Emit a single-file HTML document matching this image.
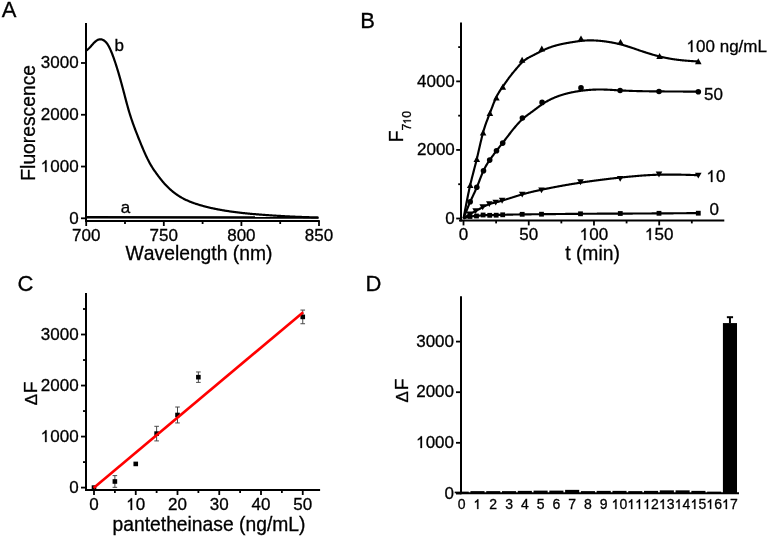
<!DOCTYPE html>
<html><head><meta charset="utf-8"><style>
html,body{margin:0;padding:0;background:#fff;}
svg{display:block;will-change:transform;}
text{-webkit-font-smoothing:antialiased;font-kerning:none;stroke:#000;stroke-width:0.3px;}
text{font-family:"Liberation Sans", sans-serif;fill:#000;}
</style></head><body>
<svg width="769" height="538" viewBox="0 0 769 538">
<rect width="769" height="538" fill="#fff"/>
<text x="1.80" y="17.40" font-size="22.00" text-anchor="start">A</text>
<text x="360.20" y="27.70" font-size="22.00" text-anchor="start">B</text>
<text x="17.40" y="291.30" font-size="22.00" text-anchor="start">C</text>
<text x="365.60" y="291.30" font-size="22.00" text-anchor="start">D</text>
<line x1="86.00" y1="23.00" x2="86.00" y2="222.00" stroke="#000" stroke-width="2.00" stroke-linecap="butt"/>
<line x1="85.00" y1="221.00" x2="319.80" y2="221.00" stroke="#000" stroke-width="2.00" stroke-linecap="butt"/>
<line x1="81.00" y1="218.30" x2="86.00" y2="218.30" stroke="#000" stroke-width="1.80" stroke-linecap="butt"/>
<text x="78.60" y="223.50" font-size="17.00" text-anchor="end">0</text>
<line x1="81.00" y1="166.53" x2="86.00" y2="166.53" stroke="#000" stroke-width="1.80" stroke-linecap="butt"/>
<text x="78.60" y="171.73" font-size="17.00" text-anchor="end"> 000</text>
<line x1="81.00" y1="114.76" x2="86.00" y2="114.76" stroke="#000" stroke-width="1.80" stroke-linecap="butt"/>
<text x="78.60" y="119.96" font-size="17.00" text-anchor="end">2000</text>
<line x1="81.00" y1="62.99" x2="86.00" y2="62.99" stroke="#000" stroke-width="1.80" stroke-linecap="butt"/>
<text x="78.60" y="68.19" font-size="17.00" text-anchor="end">3000</text>
<line x1="86.20" y1="221.00" x2="86.20" y2="226.00" stroke="#000" stroke-width="1.80" stroke-linecap="butt"/>
<text x="86.20" y="241.40" font-size="17.00" text-anchor="middle">700</text>
<line x1="163.80" y1="221.00" x2="163.80" y2="226.00" stroke="#000" stroke-width="1.80" stroke-linecap="butt"/>
<text x="163.80" y="241.40" font-size="17.00" text-anchor="middle">750</text>
<line x1="241.40" y1="221.00" x2="241.40" y2="226.00" stroke="#000" stroke-width="1.80" stroke-linecap="butt"/>
<text x="241.40" y="241.40" font-size="17.00" text-anchor="middle">800</text>
<line x1="319.00" y1="221.00" x2="319.00" y2="226.00" stroke="#000" stroke-width="1.80" stroke-linecap="butt"/>
<text x="319.00" y="241.40" font-size="17.00" text-anchor="middle">850</text>
<line x1="125.00" y1="221.00" x2="125.00" y2="224.00" stroke="#000" stroke-width="1.80" stroke-linecap="butt"/>
<line x1="202.60" y1="221.00" x2="202.60" y2="224.00" stroke="#000" stroke-width="1.80" stroke-linecap="butt"/>
<line x1="280.20" y1="221.00" x2="280.20" y2="224.00" stroke="#000" stroke-width="1.80" stroke-linecap="butt"/>
<path d="M86.50,50.40L87.00,50.01L87.50,49.61L88.00,49.20L88.50,48.77L89.00,48.30L89.50,47.80L90.00,47.27L90.50,46.71L91.00,46.15L91.50,45.57L92.00,45.00L92.50,44.44L93.00,43.88L93.50,43.35L94.00,42.83L94.50,42.34L95.00,41.88L95.50,41.44L96.00,41.05L96.50,40.68L97.00,40.36L97.50,40.07L98.00,39.83L98.50,39.63L99.00,39.47L99.50,39.36L100.00,39.30L100.50,39.29L101.00,39.33L101.50,39.41L102.00,39.54L102.50,39.72L103.00,39.94L103.50,40.20L104.00,40.51L104.50,40.87L105.00,41.27L105.50,41.74L106.00,42.26L106.50,42.84L107.00,43.48L107.50,44.20L108.00,44.99L108.50,45.84L109.00,46.76L109.50,47.75L110.00,48.79L110.50,49.88L111.00,51.03L111.50,52.22L112.00,53.46L112.50,54.74L113.00,56.07L113.50,57.43L114.00,58.83L114.50,60.27L115.00,61.75L115.50,63.26L116.00,64.80L116.50,66.37L117.00,67.97L117.50,69.60L118.00,71.25L118.50,72.93L119.00,74.64L119.50,76.37L120.00,78.12L120.50,79.89L121.00,81.69L121.50,83.51L122.00,85.34L122.50,87.20L123.00,89.08L123.50,90.97L124.00,92.88L124.50,94.79L125.00,96.70L125.50,98.61L126.00,100.50L126.50,102.38L127.00,104.24L127.50,106.06L128.00,107.86L128.50,109.61L129.00,111.32L129.50,112.98L130.00,114.60L130.50,116.18L131.00,117.72L131.50,119.23L132.00,120.70L132.50,122.14L133.00,123.56L133.50,124.95L134.00,126.32L134.50,127.67L135.00,129.00L135.50,130.32L136.00,131.63L136.50,132.92L137.00,134.20L137.50,135.47L138.00,136.74L138.50,137.99L139.00,139.23L139.50,140.46L140.00,141.69L140.50,142.91L141.00,144.12L141.50,145.32L142.00,146.52L142.50,147.71L143.00,148.89L143.50,150.06L144.00,151.22L144.50,152.36L145.00,153.49L145.50,154.61L146.00,155.70L146.50,156.77L147.00,157.83L147.50,158.86L148.00,159.86L148.50,160.85L149.00,161.80L149.50,162.73L150.00,163.63L150.50,164.50L151.00,165.35L151.50,166.18L152.00,166.99L152.50,167.78L153.00,168.55L153.50,169.31L154.00,170.05L154.50,170.78L155.00,171.49L155.50,172.20L156.00,172.90L156.50,173.59L157.00,174.27L157.50,174.95L158.00,175.63L158.50,176.30L159.00,176.96L159.50,177.62L160.00,178.26L160.50,178.90L161.00,179.53L161.50,180.15L162.00,180.77L162.50,181.37L163.00,181.96L163.50,182.54L164.00,183.11L164.50,183.67L165.00,184.22L165.50,184.76L166.00,185.29L166.50,185.81L167.00,186.32L167.50,186.83L168.00,187.32L168.50,187.81L169.00,188.28L169.50,188.75L170.00,189.21L170.50,189.66L171.00,190.10L171.50,190.53L172.00,190.96L172.50,191.37L173.00,191.78L173.50,192.18L174.00,192.57L174.50,192.95L175.00,193.33L175.50,193.70L176.00,194.06L176.50,194.41L177.00,194.76L177.50,195.10L178.00,195.43L178.50,195.76L179.00,196.08L179.50,196.39L180.00,196.70L180.50,197.00L181.00,197.29L181.50,197.58L182.00,197.86L182.50,198.13L183.00,198.40L183.50,198.67L184.00,198.93L184.50,199.18L185.00,199.43L185.50,199.67L186.00,199.91L186.50,200.14L187.00,200.37L187.50,200.60L188.00,200.82L188.50,201.03L189.00,201.24L189.50,201.45L190.00,201.66L190.50,201.86L191.00,202.05L191.50,202.24L192.00,202.43L192.50,202.62L193.00,202.80L193.50,202.98L194.00,203.16L194.50,203.33L195.00,203.50L195.50,203.67L196.00,203.84L196.50,204.00L197.00,204.16L197.50,204.32L198.00,204.48L198.50,204.64L199.00,204.79L199.50,204.94L200.00,205.09L200.50,205.24L201.00,205.39L201.50,205.53L202.00,205.67L202.50,205.81L203.00,205.95L203.50,206.09L204.00,206.23L204.50,206.36L205.00,206.49L205.50,206.62L206.00,206.75L206.50,206.88L207.00,207.00L207.50,207.12L208.00,207.25L208.50,207.37L209.00,207.49L209.50,207.60L210.00,207.72L210.50,207.83L211.00,207.95L211.50,208.06L212.00,208.17L212.50,208.28L213.00,208.39L213.50,208.49L214.00,208.60L214.50,208.70L215.00,208.80L215.50,208.90L216.00,209.00L216.50,209.10L217.00,209.20L217.50,209.30L218.00,209.39L218.50,209.49L219.00,209.58L219.50,209.67L220.00,209.76L220.50,209.85L221.00,209.94L221.50,210.03L222.00,210.12L222.50,210.21L223.00,210.29L223.50,210.38L224.00,210.46L224.50,210.54L225.00,210.62L225.50,210.71L226.00,210.79L226.50,210.86L227.00,210.94L227.50,211.02L228.00,211.10L228.50,211.17L229.00,211.25L229.50,211.32L230.00,211.39L230.50,211.47L231.00,211.54L231.50,211.61L232.00,211.68L232.50,211.75L233.00,211.82L233.50,211.89L234.00,211.95L234.50,212.02L235.00,212.08L235.50,212.15L236.00,212.21L236.50,212.28L237.00,212.34L237.50,212.40L238.00,212.46L238.50,212.52L239.00,212.58L239.50,212.64L240.00,212.70L240.50,212.76L241.00,212.81L241.50,212.87L242.00,212.93L242.50,212.98L243.00,213.04L243.50,213.09L244.00,213.14L244.50,213.20L245.00,213.25L245.50,213.30L246.00,213.35L246.50,213.40L247.00,213.45L247.50,213.50L248.00,213.55L248.50,213.60L249.00,213.64L249.50,213.69L250.00,213.74L250.50,213.79L251.00,213.83L251.50,213.88L252.00,213.92L252.50,213.97L253.00,214.01L253.50,214.05L254.00,214.10L254.50,214.14L255.00,214.18L255.50,214.22L256.00,214.27L256.50,214.31L257.00,214.35L257.50,214.39L258.00,214.43L258.50,214.47L259.00,214.51L259.50,214.55L260.00,214.59L260.50,214.62L261.00,214.66L261.50,214.70L262.00,214.74L262.50,214.77L263.00,214.81L263.50,214.85L264.00,214.89L264.50,214.92L265.00,214.96L265.50,214.99L266.00,215.03L266.50,215.06L267.00,215.10L267.50,215.14L268.00,215.17L268.50,215.20L269.00,215.24L269.50,215.27L270.00,215.31L270.50,215.34L271.00,215.38L271.50,215.41L272.00,215.44L272.50,215.48L273.00,215.51L273.50,215.54L274.00,215.57L274.50,215.61L275.00,215.64L275.50,215.67L276.00,215.70L276.50,215.73L277.00,215.76L277.50,215.79L278.00,215.83L278.50,215.86L279.00,215.89L279.50,215.92L280.00,215.95L280.50,215.97L281.00,216.00L281.50,216.03L282.00,216.06L282.50,216.09L283.00,216.12L283.50,216.15L284.00,216.17L284.50,216.20L285.00,216.23L285.50,216.25L286.00,216.28L286.50,216.31L287.00,216.33L287.50,216.36L288.00,216.38L288.50,216.41L289.00,216.43L289.50,216.46L290.00,216.48L290.50,216.50L291.00,216.53L291.50,216.55L292.00,216.57L292.50,216.60L293.00,216.62L293.50,216.64L294.00,216.66L294.50,216.68L295.00,216.70L295.50,216.73L296.00,216.75L296.50,216.77L297.00,216.79L297.50,216.81L298.00,216.83L298.50,216.85L299.00,216.87L299.50,216.88L300.00,216.90L300.50,216.92L301.00,216.94L301.50,216.96L302.00,216.98L302.50,216.99L303.00,217.01L303.50,217.03L304.00,217.05L304.50,217.06L305.00,217.08L305.50,217.10L306.00,217.11L306.50,217.13L307.00,217.15L307.50,217.16L308.00,217.18L308.50,217.20L309.00,217.21L309.50,217.23L310.00,217.24L310.50,217.26L311.00,217.27L311.50,217.29L312.00,217.30L312.50,217.32L313.00,217.34L313.50,217.35L314.00,217.37L314.50,217.38L315.00,217.40L315.50,217.41L316.00,217.43L316.50,217.44L317.00,217.46L317.50,217.47L318.00,217.49L318.50,217.50" fill="none" stroke="#000" stroke-width="2.2" stroke-linejoin="round"/>
<line x1="86.50" y1="217.35" x2="318.50" y2="217.50" stroke="#000" stroke-width="2.50" stroke-linecap="butt"/>
<text x="120.80" y="212.80" font-size="17.00" text-anchor="start">a</text>
<text x="114.60" y="51.00" font-size="17.00" text-anchor="start">b</text>
<text x="199.00" y="260.20" font-size="19.30" text-anchor="middle">Wavelength (nm)</text>
<text transform="translate(35.3,122.8) rotate(-90)" font-size="19.30" text-anchor="middle">Fluorescence</text>
<line x1="461.00" y1="22.50" x2="461.00" y2="221.40" stroke="#000" stroke-width="2.00" stroke-linecap="butt"/>
<line x1="459.00" y1="220.40" x2="724.30" y2="220.40" stroke="#000" stroke-width="2.00" stroke-linecap="butt"/>
<line x1="456.20" y1="218.50" x2="461.00" y2="218.50" stroke="#000" stroke-width="1.80" stroke-linecap="butt"/>
<text x="454.80" y="223.70" font-size="17.00" text-anchor="end">0</text>
<line x1="456.20" y1="149.94" x2="461.00" y2="149.94" stroke="#000" stroke-width="1.80" stroke-linecap="butt"/>
<text x="454.80" y="155.14" font-size="17.00" text-anchor="end">2000</text>
<line x1="456.20" y1="81.38" x2="461.00" y2="81.38" stroke="#000" stroke-width="1.80" stroke-linecap="butt"/>
<text x="454.80" y="86.58" font-size="17.00" text-anchor="end">4000</text>
<line x1="458.20" y1="184.22" x2="461.00" y2="184.22" stroke="#000" stroke-width="1.80" stroke-linecap="butt"/>
<line x1="458.20" y1="115.66" x2="461.00" y2="115.66" stroke="#000" stroke-width="1.80" stroke-linecap="butt"/>
<line x1="458.20" y1="47.10" x2="461.00" y2="47.10" stroke="#000" stroke-width="1.80" stroke-linecap="butt"/>
<line x1="463.50" y1="220.40" x2="463.50" y2="225.40" stroke="#000" stroke-width="1.80" stroke-linecap="butt"/>
<text x="463.50" y="240.30" font-size="17.00" text-anchor="middle">0</text>
<line x1="528.74" y1="220.40" x2="528.74" y2="225.40" stroke="#000" stroke-width="1.80" stroke-linecap="butt"/>
<text x="528.74" y="240.30" font-size="17.00" text-anchor="middle">50</text>
<line x1="593.97" y1="220.40" x2="593.97" y2="225.40" stroke="#000" stroke-width="1.80" stroke-linecap="butt"/>
<text x="593.97" y="240.30" font-size="17.00" text-anchor="middle"> 00</text>
<line x1="659.20" y1="220.40" x2="659.20" y2="225.40" stroke="#000" stroke-width="1.80" stroke-linecap="butt"/>
<text x="659.20" y="240.30" font-size="17.00" text-anchor="middle"> 50</text>
<line x1="496.12" y1="220.40" x2="496.12" y2="223.40" stroke="#000" stroke-width="1.80" stroke-linecap="butt"/>
<line x1="561.35" y1="220.40" x2="561.35" y2="223.40" stroke="#000" stroke-width="1.80" stroke-linecap="butt"/>
<line x1="626.59" y1="220.40" x2="626.59" y2="223.40" stroke="#000" stroke-width="1.80" stroke-linecap="butt"/>
<line x1="691.82" y1="220.40" x2="691.82" y2="223.40" stroke="#000" stroke-width="1.80" stroke-linecap="butt"/>
<path d="M463.50,218.50L463.90,216.38L464.30,214.26L464.70,212.14L465.10,210.04L465.50,207.94L465.90,205.86L466.30,203.80L466.70,201.75L467.10,199.73L467.50,197.73L467.90,195.76L468.30,193.82L468.70,191.91L469.10,190.04L469.50,188.21L469.90,186.41L470.30,184.67L470.70,182.96L471.10,181.30L471.50,179.67L471.90,178.08L472.30,176.50L472.70,174.95L473.10,173.41L473.50,171.88L473.90,170.36L474.30,168.84L474.70,167.31L475.10,165.77L475.50,164.22L475.90,162.64L476.30,161.04L476.70,159.41L477.10,157.75L477.50,156.05L477.90,154.33L478.30,152.59L478.70,150.84L479.10,149.08L479.50,147.32L479.90,145.56L480.30,143.82L480.70,142.09L481.10,140.39L481.50,138.72L481.90,137.08L482.30,135.49L482.70,133.95L483.10,132.46L483.50,131.04L483.90,129.67L484.30,128.36L484.70,127.09L485.10,125.88L485.50,124.70L485.90,123.56L486.30,122.45L486.70,121.37L487.10,120.31L487.50,119.27L487.90,118.24L488.30,117.22L488.70,116.20L489.10,115.18L489.50,114.16L489.90,113.12L490.30,112.08L490.70,111.02L491.10,109.97L491.50,108.91L491.90,107.85L492.30,106.80L492.70,105.76L493.10,104.73L493.50,103.71L493.90,102.70L494.30,101.72L494.70,100.75L495.10,99.82L495.50,98.91L495.90,98.03L496.30,97.18L496.70,96.37L497.10,95.59L497.50,94.84L497.90,94.11L498.30,93.42L498.70,92.74L499.10,92.08L499.50,91.45L499.90,90.83L500.30,90.22L500.70,89.62L501.10,89.04L501.50,88.46L501.90,87.88L502.30,87.31L502.70,86.74L503.10,86.17L503.50,85.60L503.90,85.02L504.30,84.45L504.70,83.87L505.10,83.29L505.50,82.72L505.90,82.15L506.30,81.57L506.70,81.01L507.10,80.44L507.50,79.88L507.90,79.32L508.30,78.76L508.70,78.21L509.10,77.67L509.50,77.13L509.90,76.60L510.30,76.08L510.70,75.56L511.10,75.05L511.50,74.54L511.90,74.04L512.30,73.54L512.70,73.05L513.10,72.57L513.50,72.08L513.90,71.60L514.30,71.13L514.70,70.65L515.10,70.18L515.50,69.71L515.90,69.24L516.30,68.77L516.70,68.30L517.10,67.83L517.50,67.37L517.90,66.90L518.30,66.43L518.70,65.96L519.10,65.50L519.50,65.04L519.90,64.60L520.30,64.15L520.70,63.72L521.10,63.30L521.50,62.89L521.90,62.49L522.30,62.11L522.70,61.74L523.10,61.39L523.50,61.05L523.90,60.73L524.30,60.41L524.70,60.11L525.10,59.82L525.50,59.54L525.90,59.27L526.30,59.01L526.70,58.76L527.10,58.51L527.50,58.27L527.90,58.04L528.30,57.82L528.70,57.60L529.10,57.38L529.50,57.17L529.90,56.96L530.30,56.76L530.70,56.55L531.10,56.35L531.50,56.15L531.90,55.95L532.30,55.75L532.70,55.55L533.10,55.34L533.50,55.14L533.90,54.93L534.30,54.73L534.70,54.52L535.10,54.32L535.50,54.11L535.90,53.90L536.30,53.70L536.70,53.49L537.10,53.28L537.50,53.08L537.90,52.87L538.30,52.67L538.70,52.46L539.10,52.26L539.50,52.06L539.90,51.85L540.30,51.65L540.70,51.45L541.10,51.25L541.50,51.06L541.90,50.86L542.30,50.67L542.70,50.48L543.10,50.29L543.50,50.10L543.90,49.91L544.30,49.73L544.70,49.54L545.10,49.37L545.50,49.19L545.90,49.01L546.30,48.84L546.70,48.67L547.10,48.51L547.50,48.34L547.90,48.18L548.30,48.03L548.70,47.87L549.10,47.72L549.50,47.57L549.90,47.42L550.30,47.28L550.70,47.14L551.10,47.00L551.50,46.86L551.90,46.72L552.30,46.59L552.70,46.46L553.10,46.33L553.50,46.21L553.90,46.09L554.30,45.97L554.70,45.85L555.10,45.73L555.50,45.61L555.90,45.50L556.30,45.39L556.70,45.28L557.10,45.18L557.50,45.07L557.90,44.97L558.30,44.87L558.70,44.77L559.10,44.67L559.50,44.58L559.90,44.48L560.30,44.39L560.70,44.30L561.10,44.21L561.50,44.12L561.90,44.04L562.30,43.95L562.70,43.87L563.10,43.79L563.50,43.71L563.90,43.63L564.30,43.55L564.70,43.47L565.10,43.39L565.50,43.32L565.90,43.24L566.30,43.17L566.70,43.10L567.10,43.03L567.50,42.96L567.90,42.89L568.30,42.82L568.70,42.75L569.10,42.68L569.50,42.61L569.90,42.55L570.30,42.48L570.70,42.41L571.10,42.35L571.50,42.28L571.90,42.22L572.30,42.15L572.70,42.09L573.10,42.02L573.50,41.96L573.90,41.89L574.30,41.83L574.70,41.77L575.10,41.71L575.50,41.64L575.90,41.58L576.30,41.52L576.70,41.47L577.10,41.41L577.50,41.35L577.90,41.29L578.30,41.24L578.70,41.19L579.10,41.13L579.50,41.08L579.90,41.03L580.30,40.98L580.70,40.94L581.10,40.89L581.50,40.85L581.90,40.81L582.30,40.77L582.70,40.73L583.10,40.69L583.50,40.66L583.90,40.62L584.30,40.59L584.70,40.56L585.10,40.54L585.50,40.51L585.90,40.49L586.30,40.47L586.70,40.45L587.10,40.43L587.50,40.42L587.90,40.41L588.30,40.40L588.70,40.39L589.10,40.38L589.50,40.38L589.90,40.37L590.30,40.37L590.70,40.37L591.10,40.37L591.50,40.38L591.90,40.38L592.30,40.39L592.70,40.40L593.10,40.41L593.50,40.42L593.90,40.44L594.30,40.45L594.70,40.47L595.10,40.49L595.50,40.51L595.90,40.53L596.30,40.56L596.70,40.58L597.10,40.61L597.50,40.64L597.90,40.67L598.30,40.70L598.70,40.73L599.10,40.77L599.50,40.80L599.90,40.84L600.30,40.88L600.70,40.92L601.10,40.96L601.50,41.00L601.90,41.04L602.30,41.09L602.70,41.13L603.10,41.18L603.50,41.23L603.90,41.28L604.30,41.33L604.70,41.38L605.10,41.43L605.50,41.49L605.90,41.54L606.30,41.60L606.70,41.66L607.10,41.72L607.50,41.78L607.90,41.84L608.30,41.90L608.70,41.96L609.10,42.02L609.50,42.09L609.90,42.15L610.30,42.22L610.70,42.29L611.10,42.36L611.50,42.43L611.90,42.50L612.30,42.58L612.70,42.65L613.10,42.73L613.50,42.80L613.90,42.88L614.30,42.96L614.70,43.04L615.10,43.12L615.50,43.21L615.90,43.29L616.30,43.38L616.70,43.46L617.10,43.55L617.50,43.64L617.90,43.73L618.30,43.82L618.70,43.92L619.10,44.01L619.50,44.11L619.90,44.21L620.30,44.31L620.70,44.41L621.10,44.51L621.50,44.62L621.90,44.72L622.30,44.83L622.70,44.94L623.10,45.05L623.50,45.16L623.90,45.27L624.30,45.39L624.70,45.50L625.10,45.62L625.50,45.74L625.90,45.86L626.30,45.98L626.70,46.10L627.10,46.23L627.50,46.35L627.90,46.48L628.30,46.61L628.70,46.73L629.10,46.86L629.50,46.99L629.90,47.13L630.30,47.26L630.70,47.39L631.10,47.52L631.50,47.66L631.90,47.79L632.30,47.93L632.70,48.06L633.10,48.20L633.50,48.34L633.90,48.47L634.30,48.61L634.70,48.75L635.10,48.89L635.50,49.02L635.90,49.16L636.30,49.30L636.70,49.44L637.10,49.58L637.50,49.71L637.90,49.85L638.30,49.99L638.70,50.13L639.10,50.26L639.50,50.40L639.90,50.54L640.30,50.67L640.70,50.81L641.10,50.94L641.50,51.08L641.90,51.21L642.30,51.34L642.70,51.48L643.10,51.61L643.50,51.74L643.90,51.87L644.30,52.00L644.70,52.14L645.10,52.26L645.50,52.39L645.90,52.52L646.30,52.65L646.70,52.78L647.10,52.90L647.50,53.03L647.90,53.16L648.30,53.28L648.70,53.40L649.10,53.53L649.50,53.65L649.90,53.77L650.30,53.89L650.70,54.01L651.10,54.13L651.50,54.25L651.90,54.37L652.30,54.48L652.70,54.60L653.10,54.71L653.50,54.83L653.90,54.94L654.30,55.05L654.70,55.17L655.10,55.28L655.50,55.39L655.90,55.49L656.30,55.60L656.70,55.71L657.10,55.81L657.50,55.92L657.90,56.02L658.30,56.12L658.70,56.23L659.10,56.33L659.50,56.42L659.90,56.52L660.30,56.62L660.70,56.72L661.10,56.81L661.50,56.90L661.90,57.00L662.30,57.09L662.70,57.18L663.10,57.27L663.50,57.35L663.90,57.44L664.30,57.53L664.70,57.61L665.10,57.70L665.50,57.78L665.90,57.86L666.30,57.94L666.70,58.02L667.10,58.10L667.50,58.18L667.90,58.25L668.30,58.33L668.70,58.40L669.10,58.47L669.50,58.55L669.90,58.62L670.30,58.69L670.70,58.76L671.10,58.82L671.50,58.89L671.90,58.95L672.30,59.02L672.70,59.08L673.10,59.15L673.50,59.21L673.90,59.27L674.30,59.33L674.70,59.38L675.10,59.44L675.50,59.50L675.90,59.55L676.30,59.61L676.70,59.66L677.10,59.71L677.50,59.76L677.90,59.81L678.30,59.86L678.70,59.91L679.10,59.96L679.50,60.01L679.90,60.05L680.30,60.10L680.70,60.14L681.10,60.18L681.50,60.22L681.90,60.27L682.30,60.31L682.70,60.35L683.10,60.38L683.50,60.42L683.90,60.46L684.30,60.50L684.70,60.53L685.10,60.57L685.50,60.60L685.90,60.64L686.30,60.67L686.70,60.70L687.10,60.74L687.50,60.77L687.90,60.80L688.30,60.83L688.70,60.86L689.10,60.89L689.50,60.92L689.90,60.95L690.30,60.98L690.70,61.01L691.10,61.04L691.50,61.06L691.90,61.09L692.30,61.12L692.70,61.14L693.10,61.17L693.50,61.20L693.90,61.22L694.30,61.25L694.70,61.27L695.10,61.30L695.50,61.33L695.90,61.35L696.30,61.38L696.70,61.40L697.10,61.43L697.50,61.45L697.90,61.48L698.30,61.50" fill="none" stroke="#000" stroke-width="2.15" stroke-linejoin="round"/>
<path d="M463.50,218.50L463.90,217.46L464.30,216.42L464.70,215.38L465.10,214.34L465.50,213.31L465.90,212.28L466.30,211.26L466.70,210.24L467.10,209.24L467.50,208.24L467.90,207.25L468.30,206.27L468.70,205.30L469.10,204.35L469.50,203.41L469.90,202.48L470.30,201.57L470.70,200.68L471.10,199.80L471.50,198.93L471.90,198.07L472.30,197.21L472.70,196.36L473.10,195.51L473.50,194.66L473.90,193.80L474.30,192.94L474.70,192.08L475.10,191.20L475.50,190.31L475.90,189.40L476.30,188.48L476.70,187.54L477.10,186.58L477.50,185.59L477.90,184.59L478.30,183.58L478.70,182.55L479.10,181.52L479.50,180.49L479.90,179.45L480.30,178.42L480.70,177.40L481.10,176.39L481.50,175.38L481.90,174.40L482.30,173.44L482.70,172.50L483.10,171.58L483.50,170.70L483.90,169.85L484.30,169.03L484.70,168.24L485.10,167.48L485.50,166.74L485.90,166.03L486.30,165.34L486.70,164.67L487.10,164.02L487.50,163.39L487.90,162.77L488.30,162.16L488.70,161.56L489.10,160.97L489.50,160.39L489.90,159.81L490.30,159.24L490.70,158.67L491.10,158.10L491.50,157.54L491.90,156.98L492.30,156.43L492.70,155.88L493.10,155.33L493.50,154.79L493.90,154.24L494.30,153.71L494.70,153.17L495.10,152.64L495.50,152.11L495.90,151.58L496.30,151.06L496.70,150.54L497.10,150.02L497.50,149.51L497.90,148.99L498.30,148.48L498.70,147.97L499.10,147.46L499.50,146.95L499.90,146.44L500.30,145.94L500.70,145.43L501.10,144.92L501.50,144.41L501.90,143.90L502.30,143.39L502.70,142.87L503.10,142.36L503.50,141.84L503.90,141.32L504.30,140.80L504.70,140.28L505.10,139.75L505.50,139.23L505.90,138.71L506.30,138.18L506.70,137.66L507.10,137.13L507.50,136.61L507.90,136.09L508.30,135.57L508.70,135.04L509.10,134.52L509.50,134.00L509.90,133.49L510.30,132.97L510.70,132.46L511.10,131.95L511.50,131.44L511.90,130.93L512.30,130.43L512.70,129.92L513.10,129.43L513.50,128.93L513.90,128.44L514.30,127.95L514.70,127.47L515.10,126.99L515.50,126.52L515.90,126.05L516.30,125.58L516.70,125.12L517.10,124.66L517.50,124.21L517.90,123.77L518.30,123.33L518.70,122.90L519.10,122.47L519.50,122.05L519.90,121.63L520.30,121.22L520.70,120.82L521.10,120.43L521.50,120.04L521.90,119.66L522.30,119.29L522.70,118.93L523.10,118.57L523.50,118.22L523.90,117.88L524.30,117.54L524.70,117.21L525.10,116.89L525.50,116.57L525.90,116.26L526.30,115.95L526.70,115.64L527.10,115.34L527.50,115.04L527.90,114.74L528.30,114.45L528.70,114.16L529.10,113.87L529.50,113.58L529.90,113.29L530.30,113.01L530.70,112.72L531.10,112.43L531.50,112.14L531.90,111.86L532.30,111.57L532.70,111.27L533.10,110.98L533.50,110.68L533.90,110.39L534.30,110.09L534.70,109.78L535.10,109.48L535.50,109.18L535.90,108.88L536.30,108.57L536.70,108.27L537.10,107.97L537.50,107.67L537.90,107.37L538.30,107.07L538.70,106.77L539.10,106.47L539.50,106.18L539.90,105.88L540.30,105.60L540.70,105.31L541.10,105.02L541.50,104.74L541.90,104.47L542.30,104.20L542.70,103.93L543.10,103.66L543.50,103.40L543.90,103.15L544.30,102.89L544.70,102.64L545.10,102.40L545.50,102.16L545.90,101.92L546.30,101.69L546.70,101.45L547.10,101.23L547.50,101.00L547.90,100.78L548.30,100.57L548.70,100.35L549.10,100.14L549.50,99.94L549.90,99.73L550.30,99.53L550.70,99.34L551.10,99.14L551.50,98.95L551.90,98.76L552.30,98.58L552.70,98.40L553.10,98.22L553.50,98.04L553.90,97.87L554.30,97.70L554.70,97.53L555.10,97.36L555.50,97.20L555.90,97.04L556.30,96.88L556.70,96.73L557.10,96.57L557.50,96.42L557.90,96.27L558.30,96.13L558.70,95.99L559.10,95.84L559.50,95.71L559.90,95.57L560.30,95.43L560.70,95.30L561.10,95.17L561.50,95.04L561.90,94.91L562.30,94.79L562.70,94.67L563.10,94.55L563.50,94.43L563.90,94.31L564.30,94.20L564.70,94.08L565.10,93.97L565.50,93.86L565.90,93.75L566.30,93.65L566.70,93.54L567.10,93.44L567.50,93.34L567.90,93.24L568.30,93.14L568.70,93.05L569.10,92.95L569.50,92.86L569.90,92.77L570.30,92.68L570.70,92.59L571.10,92.51L571.50,92.42L571.90,92.34L572.30,92.26L572.70,92.18L573.10,92.10L573.50,92.02L573.90,91.94L574.30,91.87L574.70,91.80L575.10,91.72L575.50,91.65L575.90,91.58L576.30,91.51L576.70,91.45L577.10,91.38L577.50,91.32L577.90,91.25L578.30,91.19L578.70,91.13L579.10,91.07L579.50,91.01L579.90,90.96L580.30,90.90L580.70,90.84L581.10,90.79L581.50,90.74L581.90,90.69L582.30,90.63L582.70,90.58L583.10,90.54L583.50,90.49L583.90,90.44L584.30,90.40L584.70,90.35L585.10,90.31L585.50,90.26L585.90,90.22L586.30,90.18L586.70,90.14L587.10,90.11L587.50,90.07L587.90,90.03L588.30,90.00L588.70,89.97L589.10,89.93L589.50,89.90L589.90,89.87L590.30,89.84L590.70,89.82L591.10,89.79L591.50,89.76L591.90,89.74L592.30,89.72L592.70,89.69L593.10,89.67L593.50,89.65L593.90,89.64L594.30,89.62L594.70,89.60L595.10,89.59L595.50,89.57L595.90,89.56L596.30,89.55L596.70,89.54L597.10,89.53L597.50,89.52L597.90,89.52L598.30,89.51L598.70,89.51L599.10,89.50L599.50,89.50L599.90,89.50L600.30,89.50L600.70,89.50L601.10,89.50L601.50,89.51L601.90,89.51L602.30,89.52L602.70,89.53L603.10,89.54L603.50,89.55L603.90,89.56L604.30,89.57L604.70,89.58L605.10,89.59L605.50,89.61L605.90,89.62L606.30,89.64L606.70,89.65L607.10,89.67L607.50,89.69L607.90,89.70L608.30,89.72L608.70,89.74L609.10,89.76L609.50,89.78L609.90,89.80L610.30,89.82L610.70,89.85L611.10,89.87L611.50,89.89L611.90,89.91L612.30,89.94L612.70,89.96L613.10,89.98L613.50,90.01L613.90,90.03L614.30,90.06L614.70,90.08L615.10,90.10L615.50,90.13L615.90,90.15L616.30,90.18L616.70,90.20L617.10,90.22L617.50,90.25L617.90,90.27L618.30,90.30L618.70,90.32L619.10,90.34L619.50,90.37L619.90,90.39L620.30,90.41L620.70,90.43L621.10,90.45L621.50,90.48L621.90,90.50L622.30,90.52L622.70,90.54L623.10,90.56L623.50,90.58L623.90,90.60L624.30,90.62L624.70,90.63L625.10,90.65L625.50,90.67L625.90,90.69L626.30,90.71L626.70,90.72L627.10,90.74L627.50,90.76L627.90,90.77L628.30,90.79L628.70,90.80L629.10,90.82L629.50,90.83L629.90,90.85L630.30,90.86L630.70,90.88L631.10,90.89L631.50,90.91L631.90,90.92L632.30,90.93L632.70,90.95L633.10,90.96L633.50,90.97L633.90,90.98L634.30,91.00L634.70,91.01L635.10,91.02L635.50,91.03L635.90,91.04L636.30,91.05L636.70,91.06L637.10,91.07L637.50,91.08L637.90,91.09L638.30,91.10L638.70,91.11L639.10,91.12L639.50,91.13L639.90,91.14L640.30,91.15L640.70,91.16L641.10,91.17L641.50,91.17L641.90,91.18L642.30,91.19L642.70,91.20L643.10,91.21L643.50,91.21L643.90,91.22L644.30,91.23L644.70,91.23L645.10,91.24L645.50,91.25L645.90,91.25L646.30,91.26L646.70,91.27L647.10,91.27L647.50,91.28L647.90,91.28L648.30,91.29L648.70,91.29L649.10,91.30L649.50,91.30L649.90,91.31L650.30,91.31L650.70,91.32L651.10,91.32L651.50,91.33L651.90,91.33L652.30,91.34L652.70,91.34L653.10,91.35L653.50,91.35L653.90,91.36L654.30,91.36L654.70,91.36L655.10,91.37L655.50,91.37L655.90,91.38L656.30,91.38L656.70,91.38L657.10,91.39L657.50,91.39L657.90,91.39L658.30,91.40L658.70,91.40L659.10,91.40L659.50,91.41L659.90,91.41L660.30,91.41L660.70,91.42L661.10,91.42L661.50,91.42L661.90,91.43L662.30,91.43L662.70,91.43L663.10,91.43L663.50,91.44L663.90,91.44L664.30,91.44L664.70,91.45L665.10,91.45L665.50,91.45L665.90,91.45L666.30,91.46L666.70,91.46L667.10,91.46L667.50,91.47L667.90,91.47L668.30,91.47L668.70,91.47L669.10,91.48L669.50,91.48L669.90,91.48L670.30,91.48L670.70,91.48L671.10,91.49L671.50,91.49L671.90,91.49L672.30,91.49L672.70,91.50L673.10,91.50L673.50,91.50L673.90,91.50L674.30,91.50L674.70,91.51L675.10,91.51L675.50,91.51L675.90,91.51L676.30,91.51L676.70,91.52L677.10,91.52L677.50,91.52L677.90,91.52L678.30,91.52L678.70,91.53L679.10,91.53L679.50,91.53L679.90,91.53L680.30,91.53L680.70,91.54L681.10,91.54L681.50,91.54L681.90,91.54L682.30,91.54L682.70,91.54L683.10,91.55L683.50,91.55L683.90,91.55L684.30,91.55L684.70,91.55L685.10,91.55L685.50,91.55L685.90,91.56L686.30,91.56L686.70,91.56L687.10,91.56L687.50,91.56L687.90,91.56L688.30,91.57L688.70,91.57L689.10,91.57L689.50,91.57L689.90,91.57L690.30,91.57L690.70,91.57L691.10,91.58L691.50,91.58L691.90,91.58L692.30,91.58L692.70,91.58L693.10,91.58L693.50,91.58L693.90,91.59L694.30,91.59L694.70,91.59L695.10,91.59L695.50,91.59L695.90,91.59L696.30,91.59L696.70,91.59L697.10,91.60L697.50,91.60L697.90,91.60L698.30,91.60" fill="none" stroke="#000" stroke-width="2.15" stroke-linejoin="round"/>
<path d="M463.50,218.50L463.90,218.21L464.30,217.92L464.70,217.64L465.10,217.35L465.50,217.06L465.90,216.78L466.30,216.50L466.70,216.22L467.10,215.95L467.50,215.68L467.90,215.41L468.30,215.15L468.70,214.90L469.10,214.65L469.50,214.40L469.90,214.16L470.30,213.93L470.70,213.70L471.10,213.47L471.50,213.25L471.90,213.04L472.30,212.82L472.70,212.61L473.10,212.40L473.50,212.19L473.90,211.99L474.30,211.78L474.70,211.57L475.10,211.36L475.50,211.15L475.90,210.94L476.30,210.73L476.70,210.51L477.10,210.29L477.50,210.07L477.90,209.86L478.30,209.63L478.70,209.41L479.10,209.19L479.50,208.97L479.90,208.75L480.30,208.52L480.70,208.30L481.10,208.08L481.50,207.86L481.90,207.64L482.30,207.42L482.70,207.20L483.10,206.98L483.50,206.77L483.90,206.56L484.30,206.35L484.70,206.14L485.10,205.94L485.50,205.74L485.90,205.54L486.30,205.35L486.70,205.16L487.10,204.98L487.50,204.81L487.90,204.64L488.30,204.48L488.70,204.32L489.10,204.17L489.50,204.03L489.90,203.90L490.30,203.77L490.70,203.65L491.10,203.53L491.50,203.42L491.90,203.31L492.30,203.21L492.70,203.11L493.10,203.01L493.50,202.92L493.90,202.83L494.30,202.73L494.70,202.64L495.10,202.54L495.50,202.45L495.90,202.35L496.30,202.25L496.70,202.15L497.10,202.05L497.50,201.94L497.90,201.84L498.30,201.73L498.70,201.62L499.10,201.50L499.50,201.39L499.90,201.28L500.30,201.16L500.70,201.05L501.10,200.93L501.50,200.81L501.90,200.69L502.30,200.57L502.70,200.45L503.10,200.33L503.50,200.21L503.90,200.08L504.30,199.96L504.70,199.84L505.10,199.71L505.50,199.59L505.90,199.46L506.30,199.34L506.70,199.21L507.10,199.08L507.50,198.96L507.90,198.83L508.30,198.70L508.70,198.58L509.10,198.45L509.50,198.32L509.90,198.19L510.30,198.07L510.70,197.94L511.10,197.81L511.50,197.68L511.90,197.56L512.30,197.43L512.70,197.30L513.10,197.17L513.50,197.05L513.90,196.92L514.30,196.79L514.70,196.67L515.10,196.54L515.50,196.42L515.90,196.29L516.30,196.17L516.70,196.04L517.10,195.92L517.50,195.80L517.90,195.67L518.30,195.55L518.70,195.43L519.10,195.31L519.50,195.19L519.90,195.07L520.30,194.95L520.70,194.83L521.10,194.72L521.50,194.60L521.90,194.49L522.30,194.37L522.70,194.26L523.10,194.15L523.50,194.03L523.90,193.92L524.30,193.81L524.70,193.71L525.10,193.60L525.50,193.49L525.90,193.38L526.30,193.28L526.70,193.17L527.10,193.07L527.50,192.97L527.90,192.87L528.30,192.76L528.70,192.66L529.10,192.56L529.50,192.46L529.90,192.37L530.30,192.27L530.70,192.17L531.10,192.07L531.50,191.98L531.90,191.88L532.30,191.79L532.70,191.69L533.10,191.60L533.50,191.51L533.90,191.41L534.30,191.32L534.70,191.23L535.10,191.14L535.50,191.05L535.90,190.96L536.30,190.87L536.70,190.78L537.10,190.69L537.50,190.60L537.90,190.52L538.30,190.43L538.70,190.34L539.10,190.26L539.50,190.17L539.90,190.08L540.30,190.00L540.70,189.91L541.10,189.83L541.50,189.74L541.90,189.66L542.30,189.57L542.70,189.49L543.10,189.41L543.50,189.32L543.90,189.24L544.30,189.16L544.70,189.07L545.10,188.99L545.50,188.91L545.90,188.83L546.30,188.75L546.70,188.66L547.10,188.58L547.50,188.50L547.90,188.42L548.30,188.34L548.70,188.26L549.10,188.18L549.50,188.10L549.90,188.02L550.30,187.94L550.70,187.86L551.10,187.79L551.50,187.71L551.90,187.63L552.30,187.55L552.70,187.47L553.10,187.40L553.50,187.32L553.90,187.24L554.30,187.17L554.70,187.09L555.10,187.01L555.50,186.94L555.90,186.86L556.30,186.79L556.70,186.71L557.10,186.64L557.50,186.56L557.90,186.49L558.30,186.41L558.70,186.34L559.10,186.26L559.50,186.19L559.90,186.12L560.30,186.05L560.70,185.97L561.10,185.90L561.50,185.83L561.90,185.76L562.30,185.68L562.70,185.61L563.10,185.54L563.50,185.47L563.90,185.40L564.30,185.33L564.70,185.26L565.10,185.19L565.50,185.12L565.90,185.05L566.30,184.98L566.70,184.91L567.10,184.84L567.50,184.77L567.90,184.70L568.30,184.64L568.70,184.57L569.10,184.50L569.50,184.43L569.90,184.37L570.30,184.30L570.70,184.23L571.10,184.17L571.50,184.10L571.90,184.03L572.30,183.97L572.70,183.90L573.10,183.84L573.50,183.77L573.90,183.71L574.30,183.64L574.70,183.58L575.10,183.51L575.50,183.45L575.90,183.39L576.30,183.32L576.70,183.26L577.10,183.20L577.50,183.13L577.90,183.07L578.30,183.01L578.70,182.95L579.10,182.88L579.50,182.82L579.90,182.76L580.30,182.70L580.70,182.64L581.10,182.58L581.50,182.52L581.90,182.46L582.30,182.40L582.70,182.34L583.10,182.28L583.50,182.22L583.90,182.16L584.30,182.10L584.70,182.04L585.10,181.98L585.50,181.92L585.90,181.87L586.30,181.81L586.70,181.75L587.10,181.69L587.50,181.64L587.90,181.58L588.30,181.52L588.70,181.46L589.10,181.41L589.50,181.35L589.90,181.30L590.30,181.24L590.70,181.18L591.10,181.13L591.50,181.07L591.90,181.02L592.30,180.96L592.70,180.91L593.10,180.86L593.50,180.80L593.90,180.75L594.30,180.69L594.70,180.64L595.10,180.59L595.50,180.53L595.90,180.48L596.30,180.43L596.70,180.37L597.10,180.32L597.50,180.27L597.90,180.22L598.30,180.17L598.70,180.11L599.10,180.06L599.50,180.01L599.90,179.96L600.30,179.91L600.70,179.86L601.10,179.81L601.50,179.76L601.90,179.71L602.30,179.66L602.70,179.61L603.10,179.56L603.50,179.51L603.90,179.46L604.30,179.41L604.70,179.36L605.10,179.31L605.50,179.26L605.90,179.21L606.30,179.17L606.70,179.12L607.10,179.07L607.50,179.02L607.90,178.97L608.30,178.93L608.70,178.88L609.10,178.83L609.50,178.79L609.90,178.74L610.30,178.69L610.70,178.65L611.10,178.60L611.50,178.55L611.90,178.51L612.30,178.46L612.70,178.42L613.10,178.37L613.50,178.33L613.90,178.28L614.30,178.24L614.70,178.19L615.10,178.15L615.50,178.10L615.90,178.06L616.30,178.01L616.70,177.97L617.10,177.92L617.50,177.88L617.90,177.84L618.30,177.79L618.70,177.75L619.10,177.71L619.50,177.66L619.90,177.62L620.30,177.58L620.70,177.54L621.10,177.49L621.50,177.45L621.90,177.41L622.30,177.37L622.70,177.33L623.10,177.28L623.50,177.24L623.90,177.20L624.30,177.16L624.70,177.12L625.10,177.08L625.50,177.04L625.90,177.00L626.30,176.96L626.70,176.92L627.10,176.88L627.50,176.84L627.90,176.80L628.30,176.76L628.70,176.72L629.10,176.68L629.50,176.64L629.90,176.60L630.30,176.57L630.70,176.53L631.10,176.49L631.50,176.45L631.90,176.42L632.30,176.38L632.70,176.34L633.10,176.31L633.50,176.27L633.90,176.24L634.30,176.20L634.70,176.17L635.10,176.13L635.50,176.10L635.90,176.06L636.30,176.03L636.70,175.99L637.10,175.96L637.50,175.93L637.90,175.89L638.30,175.86L638.70,175.83L639.10,175.80L639.50,175.77L639.90,175.73L640.30,175.70L640.70,175.67L641.10,175.64L641.50,175.61L641.90,175.58L642.30,175.55L642.70,175.53L643.10,175.50L643.50,175.47L643.90,175.44L644.30,175.41L644.70,175.39L645.10,175.36L645.50,175.33L645.90,175.31L646.30,175.28L646.70,175.26L647.10,175.23L647.50,175.21L647.90,175.18L648.30,175.16L648.70,175.14L649.10,175.11L649.50,175.09L649.90,175.07L650.30,175.05L650.70,175.03L651.10,175.01L651.50,174.99L651.90,174.97L652.30,174.95L652.70,174.93L653.10,174.91L653.50,174.89L653.90,174.87L654.30,174.86L654.70,174.84L655.10,174.82L655.50,174.81L655.90,174.79L656.30,174.78L656.70,174.76L657.10,174.75L657.50,174.74L657.90,174.72L658.30,174.71L658.70,174.70L659.10,174.69L659.50,174.68L659.90,174.67L660.30,174.66L660.70,174.65L661.10,174.64L661.50,174.63L661.90,174.62L662.30,174.62L662.70,174.61L663.10,174.60L663.50,174.60L663.90,174.59L664.30,174.59L664.70,174.58L665.10,174.58L665.50,174.57L665.90,174.57L666.30,174.57L666.70,174.56L667.10,174.56L667.50,174.56L667.90,174.56L668.30,174.56L668.70,174.56L669.10,174.55L669.50,174.55L669.90,174.56L670.30,174.56L670.70,174.56L671.10,174.56L671.50,174.56L671.90,174.56L672.30,174.56L672.70,174.57L673.10,174.57L673.50,174.57L673.90,174.58L674.30,174.58L674.70,174.59L675.10,174.59L675.50,174.60L675.90,174.60L676.30,174.61L676.70,174.61L677.10,174.62L677.50,174.62L677.90,174.63L678.30,174.64L678.70,174.65L679.10,174.65L679.50,174.66L679.90,174.67L680.30,174.68L680.70,174.68L681.10,174.69L681.50,174.70L681.90,174.71L682.30,174.72L682.70,174.73L683.10,174.74L683.50,174.75L683.90,174.76L684.30,174.77L684.70,174.78L685.10,174.79L685.50,174.80L685.90,174.81L686.30,174.82L686.70,174.83L687.10,174.84L687.50,174.86L687.90,174.87L688.30,174.88L688.70,174.89L689.10,174.90L689.50,174.92L689.90,174.93L690.30,174.94L690.70,174.95L691.10,174.96L691.50,174.98L691.90,174.99L692.30,175.00L692.70,175.02L693.10,175.03L693.50,175.04L693.90,175.05L694.30,175.07L694.70,175.08L695.10,175.09L695.50,175.11L695.90,175.12L696.30,175.13L696.70,175.15L697.10,175.16L697.50,175.17L697.90,175.19L698.30,175.20" fill="none" stroke="#000" stroke-width="2.15" stroke-linejoin="round"/>
<path d="M463.50,218.50L463.90,218.35L464.30,218.20L464.70,218.05L465.10,217.91L465.50,217.76L465.90,217.62L466.30,217.49L466.70,217.35L467.10,217.23L467.50,217.10L467.90,216.99L468.30,216.88L468.70,216.77L469.10,216.68L469.50,216.59L469.90,216.52L470.30,216.45L470.70,216.39L471.10,216.34L471.50,216.30L471.90,216.26L472.30,216.23L472.70,216.21L473.10,216.18L473.50,216.16L473.90,216.15L474.30,216.13L474.70,216.11L475.10,216.09L475.50,216.07L475.90,216.04L476.30,216.02L476.70,215.98L477.10,215.94L477.50,215.90L477.90,215.85L478.30,215.80L478.70,215.75L479.10,215.70L479.50,215.64L479.90,215.58L480.30,215.53L480.70,215.47L481.10,215.42L481.50,215.37L481.90,215.32L482.30,215.28L482.70,215.24L483.10,215.20L483.50,215.17L483.90,215.14L484.30,215.12L484.70,215.11L485.10,215.10L485.50,215.09L485.90,215.08L486.30,215.08L486.70,215.08L487.10,215.08L487.50,215.08L487.90,215.08L488.30,215.09L488.70,215.09L489.10,215.10L489.50,215.10L489.90,215.10L490.30,215.10L490.70,215.10L491.10,215.10L491.50,215.10L491.90,215.09L492.30,215.09L492.70,215.08L493.10,215.07L493.50,215.07L493.90,215.06L494.30,215.05L494.70,215.04L495.10,215.03L495.50,215.02L495.90,215.01L496.30,215.00L496.70,214.99L497.10,214.97L497.50,214.96L497.90,214.95L498.30,214.94L498.70,214.93L499.10,214.91L499.50,214.90L499.90,214.89L500.30,214.87L500.70,214.86L501.10,214.85L501.50,214.84L501.90,214.82L502.30,214.81L502.70,214.80L503.10,214.79L503.50,214.78L503.90,214.76L504.30,214.75L504.70,214.74L505.10,214.73L505.50,214.72L505.90,214.71L506.30,214.70L506.70,214.69L507.10,214.68L507.50,214.67L507.90,214.66L508.30,214.65L508.70,214.64L509.10,214.63L509.50,214.62L509.90,214.61L510.30,214.60L510.70,214.60L511.10,214.59L511.50,214.58L511.90,214.57L512.30,214.56L512.70,214.55L513.10,214.55L513.50,214.54L513.90,214.53L514.30,214.52L514.70,214.52L515.10,214.51L515.50,214.50L515.90,214.49L516.30,214.49L516.70,214.48L517.10,214.47L517.50,214.47L517.90,214.46L518.30,214.46L518.70,214.45L519.10,214.44L519.50,214.44L519.90,214.43L520.30,214.43L520.70,214.42L521.10,214.41L521.50,214.41L521.90,214.40L522.30,214.40L522.70,214.39L523.10,214.39L523.50,214.38L523.90,214.38L524.30,214.37L524.70,214.37L525.10,214.36L525.50,214.36L525.90,214.35L526.30,214.35L526.70,214.35L527.10,214.34L527.50,214.34L527.90,214.33L528.30,214.33L528.70,214.32L529.10,214.32L529.50,214.32L529.90,214.31L530.30,214.31L530.70,214.30L531.10,214.30L531.50,214.30L531.90,214.29L532.30,214.29L532.70,214.28L533.10,214.28L533.50,214.28L533.90,214.27L534.30,214.27L534.70,214.27L535.10,214.26L535.50,214.26L535.90,214.25L536.30,214.25L536.70,214.25L537.10,214.24L537.50,214.24L537.90,214.24L538.30,214.23L538.70,214.23L539.10,214.22L539.50,214.22L539.90,214.22L540.30,214.21L540.70,214.21L541.10,214.21L541.50,214.20L541.90,214.20L542.30,214.19L542.70,214.19L543.10,214.19L543.50,214.18L543.90,214.18L544.30,214.17L544.70,214.17L545.10,214.17L545.50,214.16L545.90,214.16L546.30,214.15L546.70,214.15L547.10,214.15L547.50,214.14L547.90,214.14L548.30,214.13L548.70,214.13L549.10,214.12L549.50,214.12L549.90,214.12L550.30,214.11L550.70,214.11L551.10,214.10L551.50,214.10L551.90,214.09L552.30,214.09L552.70,214.08L553.10,214.08L553.50,214.08L553.90,214.07L554.30,214.07L554.70,214.06L555.10,214.06L555.50,214.05L555.90,214.05L556.30,214.04L556.70,214.04L557.10,214.04L557.50,214.03L557.90,214.03L558.30,214.02L558.70,214.02L559.10,214.01L559.50,214.01L559.90,214.00L560.30,214.00L560.70,214.00L561.10,213.99L561.50,213.99L561.90,213.98L562.30,213.98L562.70,213.97L563.10,213.97L563.50,213.96L563.90,213.96L564.30,213.96L564.70,213.95L565.10,213.95L565.50,213.94L565.90,213.94L566.30,213.93L566.70,213.93L567.10,213.93L567.50,213.92L567.90,213.92L568.30,213.91L568.70,213.91L569.10,213.91L569.50,213.90L569.90,213.90L570.30,213.89L570.70,213.89L571.10,213.88L571.50,213.88L571.90,213.88L572.30,213.87L572.70,213.87L573.10,213.86L573.50,213.86L573.90,213.86L574.30,213.85L574.70,213.85L575.10,213.85L575.50,213.84L575.90,213.84L576.30,213.83L576.70,213.83L577.10,213.83L577.50,213.82L577.90,213.82L578.30,213.82L578.70,213.81L579.10,213.81L579.50,213.81L579.90,213.80L580.30,213.80L580.70,213.80L581.10,213.79L581.50,213.79L581.90,213.79L582.30,213.78L582.70,213.78L583.10,213.78L583.50,213.78L583.90,213.77L584.30,213.77L584.70,213.77L585.10,213.76L585.50,213.76L585.90,213.76L586.30,213.76L586.70,213.75L587.10,213.75L587.50,213.75L587.90,213.75L588.30,213.74L588.70,213.74L589.10,213.74L589.50,213.74L589.90,213.73L590.30,213.73L590.70,213.73L591.10,213.73L591.50,213.72L591.90,213.72L592.30,213.72L592.70,213.72L593.10,213.71L593.50,213.71L593.90,213.71L594.30,213.71L594.70,213.71L595.10,213.70L595.50,213.70L595.90,213.70L596.30,213.70L596.70,213.70L597.10,213.69L597.50,213.69L597.90,213.69L598.30,213.69L598.70,213.69L599.10,213.68L599.50,213.68L599.90,213.68L600.30,213.68L600.70,213.68L601.10,213.68L601.50,213.67L601.90,213.67L602.30,213.67L602.70,213.67L603.10,213.67L603.50,213.66L603.90,213.66L604.30,213.66L604.70,213.66L605.10,213.66L605.50,213.66L605.90,213.66L606.30,213.65L606.70,213.65L607.10,213.65L607.50,213.65L607.90,213.65L608.30,213.65L608.70,213.64L609.10,213.64L609.50,213.64L609.90,213.64L610.30,213.64L610.70,213.64L611.10,213.63L611.50,213.63L611.90,213.63L612.30,213.63L612.70,213.63L613.10,213.63L613.50,213.63L613.90,213.62L614.30,213.62L614.70,213.62L615.10,213.62L615.50,213.62L615.90,213.62L616.30,213.61L616.70,213.61L617.10,213.61L617.50,213.61L617.90,213.61L618.30,213.61L618.70,213.61L619.10,213.60L619.50,213.60L619.90,213.60L620.30,213.60L620.70,213.60L621.10,213.60L621.50,213.59L621.90,213.59L622.30,213.59L622.70,213.59L623.10,213.59L623.50,213.59L623.90,213.58L624.30,213.58L624.70,213.58L625.10,213.58L625.50,213.58L625.90,213.58L626.30,213.57L626.70,213.57L627.10,213.57L627.50,213.57L627.90,213.57L628.30,213.57L628.70,213.56L629.10,213.56L629.50,213.56L629.90,213.56L630.30,213.56L630.70,213.55L631.10,213.55L631.50,213.55L631.90,213.55L632.30,213.55L632.70,213.55L633.10,213.54L633.50,213.54L633.90,213.54L634.30,213.54L634.70,213.54L635.10,213.53L635.50,213.53L635.90,213.53L636.30,213.53L636.70,213.53L637.10,213.52L637.50,213.52L637.90,213.52L638.30,213.52L638.70,213.52L639.10,213.51L639.50,213.51L639.90,213.51L640.30,213.51L640.70,213.51L641.10,213.50L641.50,213.50L641.90,213.50L642.30,213.50L642.70,213.49L643.10,213.49L643.50,213.49L643.90,213.49L644.30,213.49L644.70,213.48L645.10,213.48L645.50,213.48L645.90,213.48L646.30,213.48L646.70,213.47L647.10,213.47L647.50,213.47L647.90,213.47L648.30,213.46L648.70,213.46L649.10,213.46L649.50,213.46L649.90,213.45L650.30,213.45L650.70,213.45L651.10,213.45L651.50,213.45L651.90,213.44L652.30,213.44L652.70,213.44L653.10,213.44L653.50,213.43L653.90,213.43L654.30,213.43L654.70,213.43L655.10,213.42L655.50,213.42L655.90,213.42L656.30,213.42L656.70,213.41L657.10,213.41L657.50,213.41L657.90,213.41L658.30,213.40L658.70,213.40L659.10,213.40L659.50,213.39L659.90,213.39L660.30,213.39L660.70,213.39L661.10,213.38L661.50,213.38L661.90,213.38L662.30,213.38L662.70,213.37L663.10,213.37L663.50,213.37L663.90,213.36L664.30,213.36L664.70,213.36L665.10,213.36L665.50,213.35L665.90,213.35L666.30,213.35L666.70,213.35L667.10,213.34L667.50,213.34L667.90,213.34L668.30,213.33L668.70,213.33L669.10,213.33L669.50,213.33L669.90,213.32L670.30,213.32L670.70,213.32L671.10,213.31L671.50,213.31L671.90,213.31L672.30,213.30L672.70,213.30L673.10,213.30L673.50,213.30L673.90,213.29L674.30,213.29L674.70,213.29L675.10,213.28L675.50,213.28L675.90,213.28L676.30,213.27L676.70,213.27L677.10,213.27L677.50,213.27L677.90,213.26L678.30,213.26L678.70,213.26L679.10,213.25L679.50,213.25L679.90,213.25L680.30,213.24L680.70,213.24L681.10,213.24L681.50,213.23L681.90,213.23L682.30,213.23L682.70,213.23L683.10,213.22L683.50,213.22L683.90,213.22L684.30,213.21L684.70,213.21L685.10,213.21L685.50,213.20L685.90,213.20L686.30,213.20L686.70,213.19L687.10,213.19L687.50,213.19L687.90,213.18L688.30,213.18L688.70,213.18L689.10,213.17L689.50,213.17L689.90,213.17L690.30,213.16L690.70,213.16L691.10,213.16L691.50,213.15L691.90,213.15L692.30,213.15L692.70,213.15L693.10,213.14L693.50,213.14L693.90,213.14L694.30,213.13L694.70,213.13L695.10,213.13L695.50,213.12L695.90,213.12L696.30,213.12L696.70,213.11L697.10,213.11L697.50,213.11L697.90,213.10L698.30,213.10" fill="none" stroke="#000" stroke-width="2.15" stroke-linejoin="round"/>
<path d="M470.20,182.13L473.50,188.07L466.90,188.07Z" fill="#000"/>
<path d="M476.80,156.03L480.10,161.97L473.50,161.97Z" fill="#000"/>
<path d="M483.10,129.53L486.40,135.47L479.80,135.47Z" fill="#000"/>
<path d="M489.90,110.03L493.20,115.97L486.60,115.97Z" fill="#000"/>
<path d="M496.40,94.63L499.70,100.57L493.10,100.57Z" fill="#000"/>
<path d="M502.80,83.83L506.10,89.77L499.50,89.77Z" fill="#000"/>
<path d="M522.10,56.83L525.40,62.77L518.80,62.77Z" fill="#000"/>
<path d="M541.80,45.53L545.10,51.47L538.50,51.47Z" fill="#000"/>
<path d="M581.00,35.43L584.30,41.37L577.70,41.37Z" fill="#000"/>
<path d="M620.50,38.93L623.80,44.87L617.20,44.87Z" fill="#000"/>
<path d="M659.60,53.03L662.90,58.97L656.30,58.97Z" fill="#000"/>
<path d="M698.30,58.33L701.60,64.27L695.00,64.27Z" fill="#000"/>
<circle cx="470.20" cy="201.80" r="2.80" fill="#000"/>
<circle cx="476.80" cy="187.30" r="2.80" fill="#000"/>
<circle cx="483.50" cy="170.70" r="2.80" fill="#000"/>
<circle cx="489.70" cy="160.10" r="2.80" fill="#000"/>
<circle cx="496.50" cy="150.80" r="2.80" fill="#000"/>
<circle cx="502.70" cy="143.10" r="2.80" fill="#000"/>
<circle cx="522.40" cy="118.00" r="2.80" fill="#000"/>
<circle cx="542.10" cy="102.40" r="2.80" fill="#000"/>
<circle cx="581.00" cy="87.90" r="2.80" fill="#000"/>
<circle cx="620.10" cy="90.50" r="2.80" fill="#000"/>
<circle cx="659.00" cy="91.50" r="2.80" fill="#000"/>
<circle cx="698.30" cy="91.80" r="2.80" fill="#000"/>
<path d="M469.50,217.37L472.80,211.43L466.20,211.43Z" fill="#000"/>
<path d="M475.60,214.07L478.90,208.13L472.30,208.13Z" fill="#000"/>
<path d="M482.70,210.17L486.00,204.23L479.40,204.23Z" fill="#000"/>
<path d="M489.30,207.07L492.60,201.13L486.00,201.13Z" fill="#000"/>
<path d="M495.70,205.57L499.00,199.63L492.40,199.63Z" fill="#000"/>
<path d="M502.10,203.77L505.40,197.83L498.80,197.83Z" fill="#000"/>
<path d="M522.20,197.57L525.50,191.63L518.90,191.63Z" fill="#000"/>
<path d="M541.50,193.37L544.80,187.43L538.20,187.43Z" fill="#000"/>
<path d="M580.50,185.17L583.80,179.23L577.20,179.23Z" fill="#000"/>
<path d="M620.20,181.87L623.50,175.93L616.90,175.93Z" fill="#000"/>
<path d="M659.00,177.47L662.30,171.53L655.70,171.53Z" fill="#000"/>
<path d="M698.30,178.57L701.60,172.63L695.00,172.63Z" fill="#000"/>
<rect x="467.60" y="214.10" width="4.80" height="4.80" fill="#000"/>
<rect x="474.10" y="213.60" width="4.80" height="4.80" fill="#000"/>
<rect x="480.70" y="212.60" width="4.80" height="4.80" fill="#000"/>
<rect x="487.30" y="212.90" width="4.80" height="4.80" fill="#000"/>
<rect x="493.80" y="212.80" width="4.80" height="4.80" fill="#000"/>
<rect x="500.30" y="212.40" width="4.80" height="4.80" fill="#000"/>
<rect x="519.80" y="211.90" width="4.80" height="4.80" fill="#000"/>
<rect x="539.10" y="211.80" width="4.80" height="4.80" fill="#000"/>
<rect x="578.10" y="211.40" width="4.80" height="4.80" fill="#000"/>
<rect x="617.90" y="211.10" width="4.80" height="4.80" fill="#000"/>
<rect x="656.60" y="210.90" width="4.80" height="4.80" fill="#000"/>
<rect x="695.90" y="210.80" width="4.80" height="4.80" fill="#000"/>
<text x="686.60" y="51.80" font-size="17.00" text-anchor="start"> 00 ng/mL</text>
<text x="704.00" y="99.60" font-size="17.00" text-anchor="start">50</text>
<text x="706.60" y="182.40" font-size="17.00" text-anchor="start"> 0</text>
<text x="709.50" y="214.60" font-size="17.00" text-anchor="start">0</text>
<text x="592.50" y="259.60" font-size="19.30" text-anchor="middle">t (min)</text>
<text transform="translate(403.2,142.2) rotate(-90)" font-size="19.30">F<tspan font-size="12.3" dy="7.7" letter-spacing="-0.55">7 0</tspan></text>
<line x1="86.00" y1="293.10" x2="86.00" y2="491.00" stroke="#000" stroke-width="2.00" stroke-linecap="butt"/>
<line x1="85.00" y1="490.00" x2="320.10" y2="490.00" stroke="#000" stroke-width="2.00" stroke-linecap="butt"/>
<line x1="81.00" y1="487.60" x2="86.00" y2="487.60" stroke="#000" stroke-width="1.80" stroke-linecap="butt"/>
<text x="78.60" y="492.80" font-size="17.00" text-anchor="end">0</text>
<line x1="81.00" y1="436.57" x2="86.00" y2="436.57" stroke="#000" stroke-width="1.80" stroke-linecap="butt"/>
<text x="78.60" y="441.77" font-size="17.00" text-anchor="end"> 000</text>
<line x1="81.00" y1="385.54" x2="86.00" y2="385.54" stroke="#000" stroke-width="1.80" stroke-linecap="butt"/>
<text x="78.60" y="390.74" font-size="17.00" text-anchor="end">2000</text>
<line x1="81.00" y1="334.51" x2="86.00" y2="334.51" stroke="#000" stroke-width="1.80" stroke-linecap="butt"/>
<text x="78.60" y="339.71" font-size="17.00" text-anchor="end">3000</text>
<line x1="83.00" y1="462.09" x2="86.00" y2="462.09" stroke="#000" stroke-width="1.80" stroke-linecap="butt"/>
<line x1="83.00" y1="411.06" x2="86.00" y2="411.06" stroke="#000" stroke-width="1.80" stroke-linecap="butt"/>
<line x1="83.00" y1="360.03" x2="86.00" y2="360.03" stroke="#000" stroke-width="1.80" stroke-linecap="butt"/>
<line x1="83.00" y1="309.00" x2="86.00" y2="309.00" stroke="#000" stroke-width="1.80" stroke-linecap="butt"/>
<line x1="94.00" y1="490.00" x2="94.00" y2="495.00" stroke="#000" stroke-width="1.80" stroke-linecap="butt"/>
<text x="94.00" y="510.40" font-size="17.00" text-anchor="middle">0</text>
<line x1="135.75" y1="490.00" x2="135.75" y2="495.00" stroke="#000" stroke-width="1.80" stroke-linecap="butt"/>
<text x="135.75" y="510.40" font-size="17.00" text-anchor="middle"> 0</text>
<line x1="177.50" y1="490.00" x2="177.50" y2="495.00" stroke="#000" stroke-width="1.80" stroke-linecap="butt"/>
<text x="177.50" y="510.40" font-size="17.00" text-anchor="middle">20</text>
<line x1="219.25" y1="490.00" x2="219.25" y2="495.00" stroke="#000" stroke-width="1.80" stroke-linecap="butt"/>
<text x="219.25" y="510.40" font-size="17.00" text-anchor="middle">30</text>
<line x1="261.00" y1="490.00" x2="261.00" y2="495.00" stroke="#000" stroke-width="1.80" stroke-linecap="butt"/>
<text x="261.00" y="510.40" font-size="17.00" text-anchor="middle">40</text>
<line x1="302.75" y1="490.00" x2="302.75" y2="495.00" stroke="#000" stroke-width="1.80" stroke-linecap="butt"/>
<text x="302.75" y="510.40" font-size="17.00" text-anchor="middle">50</text>
<line x1="114.88" y1="490.00" x2="114.88" y2="493.00" stroke="#000" stroke-width="1.80" stroke-linecap="butt"/>
<line x1="156.62" y1="490.00" x2="156.62" y2="493.00" stroke="#000" stroke-width="1.80" stroke-linecap="butt"/>
<line x1="198.38" y1="490.00" x2="198.38" y2="493.00" stroke="#000" stroke-width="1.80" stroke-linecap="butt"/>
<line x1="240.12" y1="490.00" x2="240.12" y2="493.00" stroke="#000" stroke-width="1.80" stroke-linecap="butt"/>
<line x1="281.88" y1="490.00" x2="281.88" y2="493.00" stroke="#000" stroke-width="1.80" stroke-linecap="butt"/>
<rect x="91.70" y="485.30" width="4.60" height="4.60" fill="#000"/>
<path d="M114.88,475.61V487.34M112.58,475.61H117.17M112.58,487.34H117.17" stroke="#4a4a4a" stroke-width="1" fill="none"/>
<rect x="112.58" y="479.18" width="4.60" height="4.60" fill="#000"/>
<rect x="133.45" y="461.62" width="4.60" height="4.60" fill="#000"/>
<path d="M156.62,426.31V440.91M154.32,426.31H158.93M154.32,440.91H158.93" stroke="#4a4a4a" stroke-width="1" fill="none"/>
<rect x="154.32" y="431.31" width="4.60" height="4.60" fill="#000"/>
<path d="M177.50,407.02V422.94M175.20,407.02H179.80M175.20,422.94H179.80" stroke="#4a4a4a" stroke-width="1" fill="none"/>
<rect x="175.20" y="412.68" width="4.60" height="4.60" fill="#000"/>
<path d="M198.38,371.97V382.38M196.07,371.97H200.68M196.07,382.38H200.68" stroke="#4a4a4a" stroke-width="1" fill="none"/>
<rect x="196.07" y="374.87" width="4.60" height="4.60" fill="#000"/>
<path d="M302.75,310.07V323.74M300.45,310.07H305.05M300.45,323.74H305.05" stroke="#4a4a4a" stroke-width="1" fill="none"/>
<rect x="300.45" y="314.60" width="4.60" height="4.60" fill="#000"/>
<line x1="93.60" y1="488.00" x2="303.20" y2="312.20" stroke="#ff0000" stroke-width="2.60" stroke-linecap="butt"/>
<text x="209.00" y="531.40" font-size="19.30" text-anchor="middle">pantetheinase (ng/mL)</text>
<text transform="translate(36.6,405.2) rotate(-90)" font-size="17"><tspan>&#916;</tspan><tspan font-size="19.2" dx="0.6">F</tspan></text>
<line x1="461.00" y1="296.20" x2="461.00" y2="494.30" stroke="#000" stroke-width="2.00" stroke-linecap="butt"/>
<line x1="456.00" y1="493.30" x2="739.00" y2="493.30" stroke="#000" stroke-width="2.00" stroke-linecap="butt"/>
<line x1="456.00" y1="493.40" x2="461.00" y2="493.40" stroke="#000" stroke-width="1.80" stroke-linecap="butt"/>
<text x="454.00" y="498.60" font-size="17.00" text-anchor="end">0</text>
<line x1="456.00" y1="442.80" x2="461.00" y2="442.80" stroke="#000" stroke-width="1.80" stroke-linecap="butt"/>
<text x="454.00" y="448.00" font-size="17.00" text-anchor="end"> 000</text>
<line x1="456.00" y1="392.20" x2="461.00" y2="392.20" stroke="#000" stroke-width="1.80" stroke-linecap="butt"/>
<text x="454.00" y="397.40" font-size="17.00" text-anchor="end">2000</text>
<line x1="456.00" y1="341.60" x2="461.00" y2="341.60" stroke="#000" stroke-width="1.80" stroke-linecap="butt"/>
<text x="454.00" y="346.80" font-size="17.00" text-anchor="end">3000</text>
<rect x="454.65" y="491.63" width="14.10" height="1.67" fill="#000"/>
<text x="461.70" y="508.80" font-size="14.00" text-anchor="middle">0</text>
<rect x="470.43" y="491.12" width="14.10" height="2.18" fill="#000"/>
<text x="477.48" y="508.80" font-size="14.00" text-anchor="middle"> </text>
<rect x="486.21" y="491.12" width="14.10" height="2.18" fill="#000"/>
<text x="493.26" y="508.80" font-size="14.00" text-anchor="middle">2</text>
<rect x="501.99" y="491.12" width="14.10" height="2.18" fill="#000"/>
<text x="509.04" y="508.80" font-size="14.00" text-anchor="middle">3</text>
<rect x="517.77" y="490.87" width="14.10" height="2.43" fill="#000"/>
<text x="524.82" y="508.80" font-size="14.00" text-anchor="middle">4</text>
<rect x="533.55" y="490.62" width="14.10" height="2.68" fill="#000"/>
<text x="540.60" y="508.80" font-size="14.00" text-anchor="middle">5</text>
<rect x="549.33" y="490.62" width="14.10" height="2.68" fill="#000"/>
<text x="556.38" y="508.80" font-size="14.00" text-anchor="middle">6</text>
<rect x="565.11" y="489.86" width="14.10" height="3.44" fill="#000"/>
<text x="572.16" y="508.80" font-size="14.00" text-anchor="middle">7</text>
<rect x="580.89" y="491.12" width="14.10" height="2.18" fill="#000"/>
<text x="587.94" y="508.80" font-size="14.00" text-anchor="middle">8</text>
<rect x="596.67" y="490.87" width="14.10" height="2.43" fill="#000"/>
<text x="603.72" y="508.80" font-size="14.00" text-anchor="middle">9</text>
<rect x="612.45" y="490.87" width="14.10" height="2.43" fill="#000"/>
<text x="619.50" y="508.80" font-size="14.00" text-anchor="middle"> 0</text>
<rect x="628.23" y="491.12" width="14.10" height="2.18" fill="#000"/>
<text x="635.28" y="508.80" font-size="14.00" text-anchor="middle">  </text>
<rect x="644.01" y="490.87" width="14.10" height="2.43" fill="#000"/>
<text x="651.06" y="508.80" font-size="14.00" text-anchor="middle"> 2</text>
<rect x="659.79" y="490.36" width="14.10" height="2.94" fill="#000"/>
<text x="666.84" y="508.80" font-size="14.00" text-anchor="middle"> 3</text>
<rect x="675.57" y="490.36" width="14.10" height="2.94" fill="#000"/>
<text x="682.62" y="508.80" font-size="14.00" text-anchor="middle"> 4</text>
<rect x="691.35" y="490.87" width="14.10" height="2.43" fill="#000"/>
<text x="698.40" y="508.80" font-size="14.00" text-anchor="middle"> 5</text>
<rect x="707.13" y="491.63" width="14.10" height="1.67" fill="#000"/>
<text x="714.18" y="508.80" font-size="14.00" text-anchor="middle"> 6</text>
<rect x="722.91" y="323.08" width="14.10" height="170.22" fill="#000"/>
<text x="729.96" y="508.80" font-size="14.00" text-anchor="middle"> 7</text>
<line x1="729.96" y1="323.08" x2="729.96" y2="317.00" stroke="#000" stroke-width="2.00" stroke-linecap="butt"/>
<line x1="726.86" y1="317.20" x2="733.06" y2="317.20" stroke="#000" stroke-width="2.00" stroke-linecap="butt"/>
<text transform="translate(408.0,402.4) rotate(-90)" font-size="17"><tspan>&#916;</tspan><tspan font-size="19.2" dx="0.8">F</tspan></text>
<g id="ones"><g transform="matrix(1.00000,0.00000,0.00000,1.00000,0.000,0.000)"><path transform="translate(40.772,172.000) scale(0.008313,-0.008313)" d="M700,0 L520,0 L520,1105 Q455,1045 360,990 Q270,940 200,915 L200,1080 Q330,1145 425,1235 Q515,1320 555,1409 L700,1409 Z" stroke="#000" stroke-width="0.3" vector-effect="non-scaling-stroke"/></g><g transform="matrix(1.00000,0.00000,0.00000,1.00000,0.000,0.000)"><path transform="translate(579.782,240.000) scale(0.008313,-0.008313)" d="M700,0 L520,0 L520,1105 Q455,1045 360,990 Q270,940 200,915 L200,1080 Q330,1145 425,1235 Q515,1320 555,1409 L700,1409 Z" stroke="#000" stroke-width="0.3" vector-effect="non-scaling-stroke"/></g><g transform="matrix(1.00000,0.00000,0.00000,1.00000,0.000,0.000)"><path transform="translate(645.013,240.000) scale(0.008313,-0.008313)" d="M700,0 L520,0 L520,1105 Q455,1045 360,990 Q270,940 200,915 L200,1080 Q330,1145 425,1235 Q515,1320 555,1409 L700,1409 Z" stroke="#000" stroke-width="0.3" vector-effect="non-scaling-stroke"/></g><g transform="matrix(1.00000,0.00000,0.00000,1.00000,0.000,0.000)"><path transform="translate(686.600,52.000) scale(0.008313,-0.008313)" d="M700,0 L520,0 L520,1105 Q455,1045 360,990 Q270,940 200,915 L200,1080 Q330,1145 425,1235 Q515,1320 555,1409 L700,1409 Z" stroke="#000" stroke-width="0.3" vector-effect="non-scaling-stroke"/></g><g transform="matrix(1.00000,0.00000,0.00000,1.00000,0.000,0.000)"><path transform="translate(706.600,182.000) scale(0.008313,-0.008313)" d="M700,0 L520,0 L520,1105 Q455,1045 360,990 Q270,940 200,915 L200,1080 Q330,1145 425,1235 Q515,1320 555,1409 L700,1409 Z" stroke="#000" stroke-width="0.3" vector-effect="non-scaling-stroke"/></g><g transform="matrix(0.00000,-1.00000,1.00000,0.00000,403.200,142.200)"><path transform="translate(18.062,7.700) scale(0.005528,-0.005528)" d="M700,0 L520,0 L520,1105 Q455,1045 360,990 Q270,940 200,915 L200,1080 Q330,1145 425,1235 Q515,1320 555,1409 L700,1409 Z" stroke="#000" stroke-width="0.3" vector-effect="non-scaling-stroke"/></g><g transform="matrix(1.00000,0.00000,0.00000,1.00000,0.000,0.000)"><path transform="translate(40.772,442.000) scale(0.008313,-0.008313)" d="M700,0 L520,0 L520,1105 Q455,1045 360,990 Q270,940 200,915 L200,1080 Q330,1145 425,1235 Q515,1320 555,1409 L700,1409 Z" stroke="#000" stroke-width="0.3" vector-effect="non-scaling-stroke"/></g><g transform="matrix(1.00000,0.00000,0.00000,1.00000,0.000,0.000)"><path transform="translate(126.289,510.000) scale(0.008313,-0.008313)" d="M700,0 L520,0 L520,1105 Q455,1045 360,990 Q270,940 200,915 L200,1080 Q330,1145 425,1235 Q515,1320 555,1409 L700,1409 Z" stroke="#000" stroke-width="0.3" vector-effect="non-scaling-stroke"/></g><g transform="matrix(1.00000,0.00000,0.00000,1.00000,0.000,0.000)"><path transform="translate(416.172,448.000) scale(0.008313,-0.008313)" d="M700,0 L520,0 L520,1105 Q455,1045 360,990 Q270,940 200,915 L200,1080 Q330,1145 425,1235 Q515,1320 555,1409 L700,1409 Z" stroke="#000" stroke-width="0.3" vector-effect="non-scaling-stroke"/></g><g transform="matrix(1.00000,0.00000,0.00000,1.00000,0.000,0.000)"><path transform="translate(473.582,509.000) scale(0.006845,-0.006845)" d="M700,0 L520,0 L520,1105 Q455,1045 360,990 Q270,940 200,915 L200,1080 Q330,1145 425,1235 Q515,1320 555,1409 L700,1409 Z" stroke="#000" stroke-width="0.3" vector-effect="non-scaling-stroke"/></g><g transform="matrix(1.00000,0.00000,0.00000,1.00000,0.000,0.000)"><path transform="translate(611.711,509.000) scale(0.006845,-0.006845)" d="M700,0 L520,0 L520,1105 Q455,1045 360,990 Q270,940 200,915 L200,1080 Q330,1145 425,1235 Q515,1320 555,1409 L700,1409 Z" stroke="#000" stroke-width="0.3" vector-effect="non-scaling-stroke"/></g><g transform="matrix(1.00000,0.00000,0.00000,1.00000,0.000,0.000)"><path transform="translate(627.491,509.000) scale(0.006845,-0.006845)" d="M700,0 L520,0 L520,1105 Q455,1045 360,990 Q270,940 200,915 L200,1080 Q330,1145 425,1235 Q515,1320 555,1409 L700,1409 Z" stroke="#000" stroke-width="0.3" vector-effect="non-scaling-stroke"/></g><g transform="matrix(1.00000,0.00000,0.00000,1.00000,0.000,0.000)"><path transform="translate(635.272,509.000) scale(0.006845,-0.006845)" d="M700,0 L520,0 L520,1105 Q455,1045 360,990 Q270,940 200,915 L200,1080 Q330,1145 425,1235 Q515,1320 555,1409 L700,1409 Z" stroke="#000" stroke-width="0.3" vector-effect="non-scaling-stroke"/></g><g transform="matrix(1.00000,0.00000,0.00000,1.00000,0.000,0.000)"><path transform="translate(643.271,509.000) scale(0.006845,-0.006845)" d="M700,0 L520,0 L520,1105 Q455,1045 360,990 Q270,940 200,915 L200,1080 Q330,1145 425,1235 Q515,1320 555,1409 L700,1409 Z" stroke="#000" stroke-width="0.3" vector-effect="non-scaling-stroke"/></g><g transform="matrix(1.00000,0.00000,0.00000,1.00000,0.000,0.000)"><path transform="translate(659.051,509.000) scale(0.006845,-0.006845)" d="M700,0 L520,0 L520,1105 Q455,1045 360,990 Q270,940 200,915 L200,1080 Q330,1145 425,1235 Q515,1320 555,1409 L700,1409 Z" stroke="#000" stroke-width="0.3" vector-effect="non-scaling-stroke"/></g><g transform="matrix(1.00000,0.00000,0.00000,1.00000,0.000,0.000)"><path transform="translate(674.831,509.000) scale(0.006845,-0.006845)" d="M700,0 L520,0 L520,1105 Q455,1045 360,990 Q270,940 200,915 L200,1080 Q330,1145 425,1235 Q515,1320 555,1409 L700,1409 Z" stroke="#000" stroke-width="0.3" vector-effect="non-scaling-stroke"/></g><g transform="matrix(1.00000,0.00000,0.00000,1.00000,0.000,0.000)"><path transform="translate(690.611,509.000) scale(0.006845,-0.006845)" d="M700,0 L520,0 L520,1105 Q455,1045 360,990 Q270,940 200,915 L200,1080 Q330,1145 425,1235 Q515,1320 555,1409 L700,1409 Z" stroke="#000" stroke-width="0.3" vector-effect="non-scaling-stroke"/></g><g transform="matrix(1.00000,0.00000,0.00000,1.00000,0.000,0.000)"><path transform="translate(706.391,509.000) scale(0.006845,-0.006845)" d="M700,0 L520,0 L520,1105 Q455,1045 360,990 Q270,940 200,915 L200,1080 Q330,1145 425,1235 Q515,1320 555,1409 L700,1409 Z" stroke="#000" stroke-width="0.3" vector-effect="non-scaling-stroke"/></g><g transform="matrix(1.00000,0.00000,0.00000,1.00000,0.000,0.000)"><path transform="translate(722.171,509.000) scale(0.006845,-0.006845)" d="M700,0 L520,0 L520,1105 Q455,1045 360,990 Q270,940 200,915 L200,1080 Q330,1145 425,1235 Q515,1320 555,1409 L700,1409 Z" stroke="#000" stroke-width="0.3" vector-effect="non-scaling-stroke"/></g></g></g>
</svg>
</body></html>
